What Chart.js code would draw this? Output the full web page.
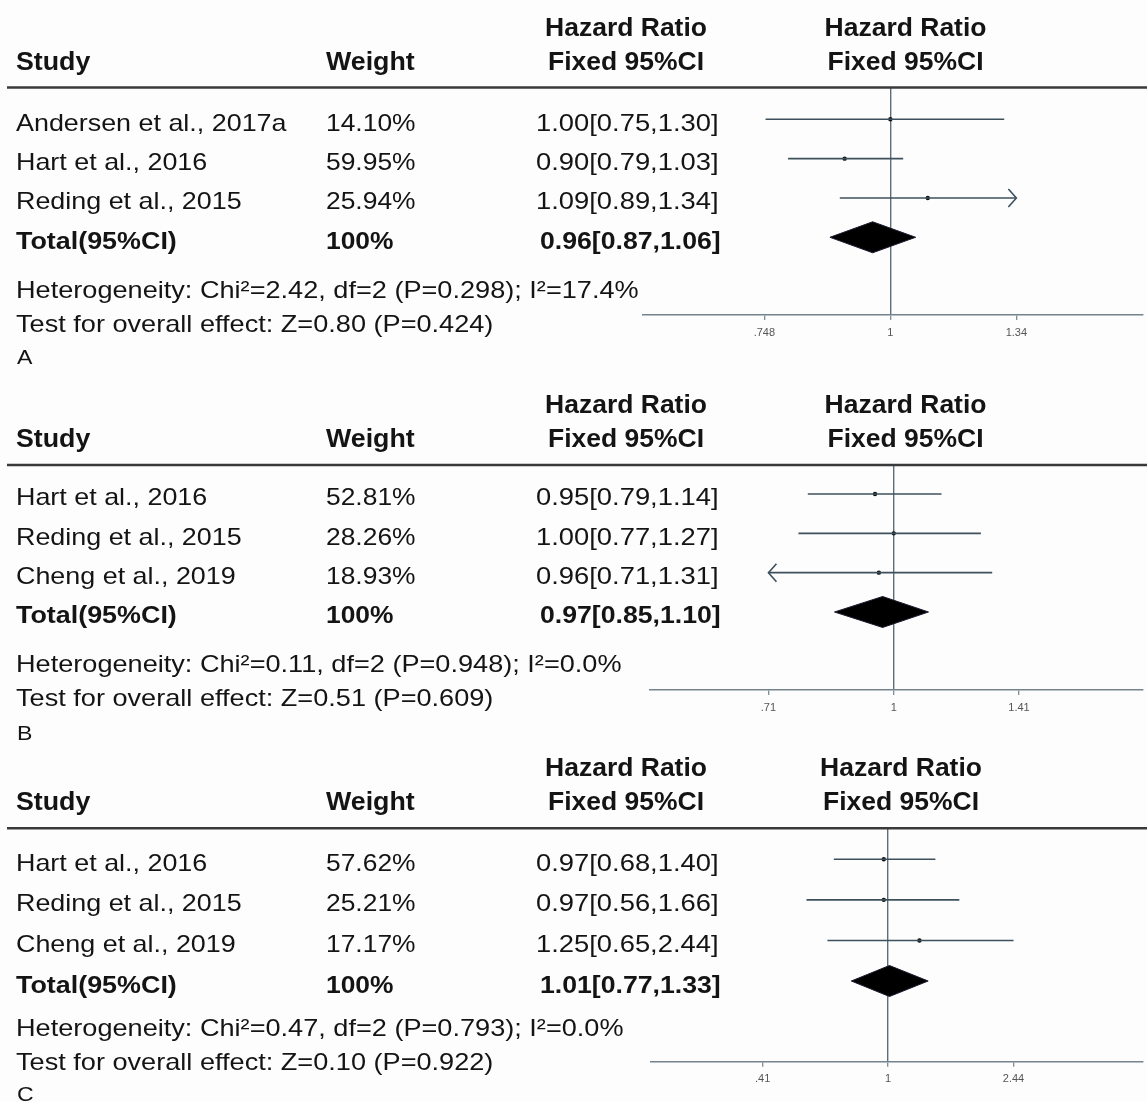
<!DOCTYPE html>
<html>
<head>
<meta charset="utf-8">
<script src="https://cdn.jsdelivr.net/npm/chart.js@4.4.1/dist/chart.umd.min.js"></script>
<style>
  html, body { margin: 0; padding: 0; background: #fdfdfe; }
  #wrap { position: relative; width: 1147px; height: 1102px; overflow: hidden; }
  #wrap canvas { position: absolute; left: 0; top: 0; }
</style>
</head>
<body>
<div id="wrap">
  <canvas id="panelA" width="1147" height="1102"></canvas>
  <canvas id="panelB" width="1147" height="1102"></canvas>
  <canvas id="panelC" width="1147" height="1102"></canvas>
</div>
<script>
// ---- Panel A ----
const studiesA = ['Andersen et al., 2017a', 'Hart et al., 2016', 'Reding et al., 2015'];
const weightsA = [14.10, 59.95, 25.94];
const hrA = [1.00, 0.90, 1.09];
const lowerA = [0.75, 0.79, 0.89];
const upperA = [1.30, 1.03, 1.34];
const truncatedA = [null, null, 'upper'];
const pooledA = [0.96, 0.87, 1.06];           // estimate, lower, upper
const heterogeneityA = 'Heterogeneity: Chi²=2.42, df=2 (P=0.298); I²=17.4%';
const overallTestA = 'Test for overall effect: Z=0.80 (P=0.424)';
const tickValuesA = [0.748, 1, 1 / 0.748];
const tickLabelsA = ['.748', '1', '1.34'];

// ---- Panel B ----
const studiesB = ['Hart et al., 2016', 'Reding et al., 2015', 'Cheng et al., 2019'];
const weightsB = [52.81, 28.26, 18.93];
const hrB = [0.95, 1.00, 0.96];
const lowerB = [0.79, 0.77, 0.71];
const upperB = [1.14, 1.27, 1.31];
const truncatedB = [null, null, 'lower'];
const pooledB = [0.97, 0.85, 1.10];
const heterogeneityB = 'Heterogeneity: Chi²=0.11, df=2 (P=0.948); I²=0.0%';
const overallTestB = 'Test for overall effect: Z=0.51 (P=0.609)';
const tickValuesB = [1 / 1.41, 1, 1.41];
const tickLabelsB = ['.71', '1', '1.41'];

// ---- Panel C ----
const studiesC = ['Hart et al., 2016', 'Reding et al., 2015', 'Cheng et al., 2019'];
const weightsC = [57.62, 25.21, 17.17];
const hrC = [0.97, 0.97, 1.25];
const lowerC = [0.68, 0.56, 0.65];
const upperC = [1.40, 1.66, 2.44];
const truncatedC = [null, null, null];
const pooledC = [1.01, 0.77, 1.33];
const heterogeneityC = 'Heterogeneity: Chi²=0.47, df=2 (P=0.793); I²=0.0%';
const overallTestC = 'Test for overall effect: Z=0.10 (P=0.922)';
const tickValuesC = [0.41, 1, 2.44];
const tickLabelsC = ['.41', '1', '2.44'];

// ---- look & layout ----
const FONT = '"Liberation Sans", Arial, Helvetica, sans-serif';
const TEXT_COLOR = '#141414';
const CI_COLOR = '#3e505c';
const REF_COLOR = '#5d6e79';
const AXIS_COLOR = '#74848e';
const RULE_COLOR = '#3a3a3a';
const PAGE_H = 1102;
const TICK_LEN = 5;
const TICK_PAD = 6;
const X_AXIS_H = TICK_LEN + 2 * TICK_PAD + 11 * 1.2;   // height Chart.js reserves for the x axis

const layouts = [
  { id: 'panelA', tag: 'A', top: 87.5, axisY: 315, left: 643, yMin: 0.191, yMax: 5.976,
    xMin: 0.5655, xMax: 1.790, rightHeadX: 905.5, footer: [298, 332, 364] },
  { id: 'panelB', tag: 'B', top: 465, axisY: 690, left: 650, yMin: 0.263, yMax: 5.983,
    xMin: 0.5125, xMax: 1.981, rightHeadX: 905.5, footer: [672, 706, 740] },
  { id: 'panelC', tag: 'C', top: 828.3, axisY: 1061.7, left: 651, yMin: 0.236, yMax: 5.989,
    xMin: 0.1854, xMax: 6.125, rightHeadX: 901, footer: [1036, 1070, 1101] }
];

const panelData = [
  { studies: studiesA, weights: weightsA, hr: hrA, lower: lowerA, upper: upperA, truncated: truncatedA,
    pooled: pooledA, het: heterogeneityA, test: overallTestA, ticks: tickValuesA, tickLabels: tickLabelsA },
  { studies: studiesB, weights: weightsB, hr: hrB, lower: lowerB, upper: upperB, truncated: truncatedB,
    pooled: pooledB, het: heterogeneityB, test: overallTestB, ticks: tickValuesB, tickLabels: tickLabelsB },
  { studies: studiesC, weights: weightsC, hr: hrC, lower: lowerC, upper: upperC, truncated: truncatedC,
    pooled: pooledC, het: heterogeneityC, test: overallTestC, ticks: tickValuesC, tickLabels: tickLabelsC }
];

function fmtCI(est, lo, hi) {
  return est.toFixed(2) + '[' + lo.toFixed(2) + ',' + hi.toFixed(2) + ']';
}

function drawText(ctx, text, x, baseline, opt) {
  const o = Object.assign({ bold: false, size: 24, sx: 1.12, align: 'left' }, opt || {});
  ctx.save();
  ctx.font = (o.bold ? 'bold ' : '') + o.size + 'px ' + FONT;
  ctx.fillStyle = TEXT_COLOR;
  ctx.textAlign = o.align;
  ctx.textBaseline = 'alphabetic';
  ctx.translate(x, baseline);
  ctx.scale(o.sx, 1);
  ctx.fillText(text, 0, 0);
  ctx.restore();
}

// Table columns, summary diamond and truncation arrows
const forestTable = {
  id: 'forestTable',
  afterDatasetsDraw(chart) {
    const { d } = chart.options.plugins.forestTable;
    const ctx = chart.ctx;
    const xs = chart.scales.x, ys = chart.scales.y;

    // pooled estimate diamond
    const row = d.hr.length + 1;
    const yc = ys.getPixelForValue(row);
    const half = 15.5;
    ctx.save();
    ctx.beginPath();
    ctx.moveTo(xs.getPixelForValue(d.pooled[1]), yc);
    ctx.lineTo(xs.getPixelForValue(d.pooled[0]), yc - half);
    ctx.lineTo(xs.getPixelForValue(d.pooled[2]), yc);
    ctx.lineTo(xs.getPixelForValue(d.pooled[0]), yc + half);
    ctx.closePath();
    ctx.fillStyle = '#000';
    ctx.fill();
    ctx.lineWidth = 1;
    ctx.strokeStyle = '#1a1a2e';
    ctx.stroke();
    ctx.restore();

    // arrows where a confidence interval runs past the axis labels
    d.truncated.forEach((t, i) => {
      if (!t) return;
      const y = ys.getPixelForValue(i + 1);
      const edge = t === 'upper' ? d.ticks[d.ticks.length - 1] : d.ticks[0];
      const x = xs.getPixelForValue(edge);
      const dir = t === 'upper' ? 1 : -1;
      ctx.save();
      ctx.strokeStyle = CI_COLOR;
      ctx.lineWidth = 1.6;
      ctx.beginPath();
      ctx.moveTo(x - dir * 8, y - 9);
      ctx.lineTo(x, y);
      ctx.lineTo(x - dir * 8, y + 9);
      ctx.stroke();
      ctx.restore();
    });
  },
  afterDraw(chart) {
    const { d, L } = chart.options.plugins.forestTable;
    const ctx = chart.ctx;
    const ys = chart.scales.y;
    const H = L.top;

    // column headings
    drawText(ctx, 'Study', 16, H - 18, { bold: true, size: 25, sx: 1.07 });
    drawText(ctx, 'Weight', 326, H - 18, { bold: true, size: 25, sx: 1.07 });
    drawText(ctx, 'Hazard Ratio', 626, H - 52, { bold: true, size: 25, sx: 1.06, align: 'center' });
    drawText(ctx, 'Fixed 95%CI', 626, H - 18, { bold: true, size: 25, sx: 1.06, align: 'center' });
    drawText(ctx, 'Hazard Ratio', L.rightHeadX, H - 52, { bold: true, size: 25, sx: 1.06, align: 'center' });
    drawText(ctx, 'Fixed 95%CI', L.rightHeadX, H - 18, { bold: true, size: 25, sx: 1.06, align: 'center' });

    // rule under the headings
    ctx.save();
    ctx.strokeStyle = RULE_COLOR;
    ctx.lineWidth = 2.5;
    ctx.beginPath();
    ctx.moveTo(7, H);
    ctx.lineTo(1147, H);
    ctx.stroke();
    ctx.restore();

    // study rows
    d.studies.forEach((s, i) => {
      const b = ys.getPixelForValue(i + 1) + 11.5;
      drawText(ctx, s, 16, b, { sx: 1.12 });
      drawText(ctx, d.weights[i].toFixed(2) + '%', 326, b, { sx: 1.1 });
      drawText(ctx, fmtCI(d.hr[i], d.lower[i], d.upper[i]), 536, b, { sx: 1.14 });
    });

    // total row
    const totalWeight = d.weights.reduce((a, w) => a + w, 0);
    const bt = ys.getPixelForValue(d.studies.length + 1) + 11.5;
    drawText(ctx, 'Total(95%CI)', 16, bt, { bold: true, sx: 1.12 });
    drawText(ctx, Math.round(totalWeight) + '%', 326, bt, { bold: true, sx: 1.1 });
    drawText(ctx, fmtCI(d.pooled[0], d.pooled[1], d.pooled[2]), 540, bt, { bold: true, sx: 1.11 });

    // footnotes and panel tag
    drawText(ctx, d.het, 16, L.footer[0], { sx: 1.13 });
    drawText(ctx, d.test, 16, L.footer[1], { sx: 1.13 });
    drawText(ctx, L.tag, 17, L.footer[2], { size: 21, sx: 1.1 });
  }
};

function buildPanel(d, L) {
  const datasets = d.hr.map((est, i) => {
    const lo = d.truncated[i] === 'lower' ? d.ticks[0] : d.lower[i];
    const hi = d.truncated[i] === 'upper' ? d.ticks[d.ticks.length - 1] : d.upper[i];
    return {
      data: [{ x: lo, y: i + 1 }, { x: hi, y: i + 1 }],
      showLine: true,
      borderColor: CI_COLOR,
      borderWidth: 1.6,
      pointRadius: 0
    };
  });
  datasets.push({
    data: d.hr.map((v, i) => ({ x: v, y: i + 1 })),
    pointRadius: 2.2,
    pointBackgroundColor: '#111',
    pointBorderWidth: 0,
    showLine: false
  });

  return new Chart(document.getElementById(L.id), {
    type: 'scatter',
    data: { datasets },
    options: {
      responsive: false,
      animation: false,
      events: [],
      layout: { padding: { left: L.left, right: 0, top: L.top, bottom: PAGE_H - L.axisY - X_AXIS_H } },
      plugins: {
        legend: { display: false },
        tooltip: { enabled: false },
        forestTable: { d, L }
      },
      scales: {
        x: {
          type: 'logarithmic',
          min: L.xMin,
          max: L.xMax,
          afterBuildTicks: (s) => { s.ticks = d.ticks.map(v => ({ value: v })); },
          ticks: {
            callback: (v, i) => d.tickLabels[i],
            font: { family: FONT, size: 11, lineHeight: 1.2 },
            color: '#555',
            padding: TICK_PAD,
            maxRotation: 0,
            autoSkip: false
          },
          grid: {
            drawOnChartArea: true,
            color: (c) => (c.tick && c.tick.value === 1) ? REF_COLOR : 'rgba(0,0,0,0)',
            lineWidth: 1.4,
            tickColor: AXIS_COLOR,
            tickLength: TICK_LEN,
            tickWidth: 1.2
          },
          border: { display: true, color: AXIS_COLOR, width: 1.5 }
        },
        y: { type: 'linear', reverse: true, min: L.yMin, max: L.yMax, display: false }
      }
    },
    plugins: [forestTable]
  });
}

layouts.forEach((L, i) => buildPanel(panelData[i], L));
</script>
</body>
</html>
